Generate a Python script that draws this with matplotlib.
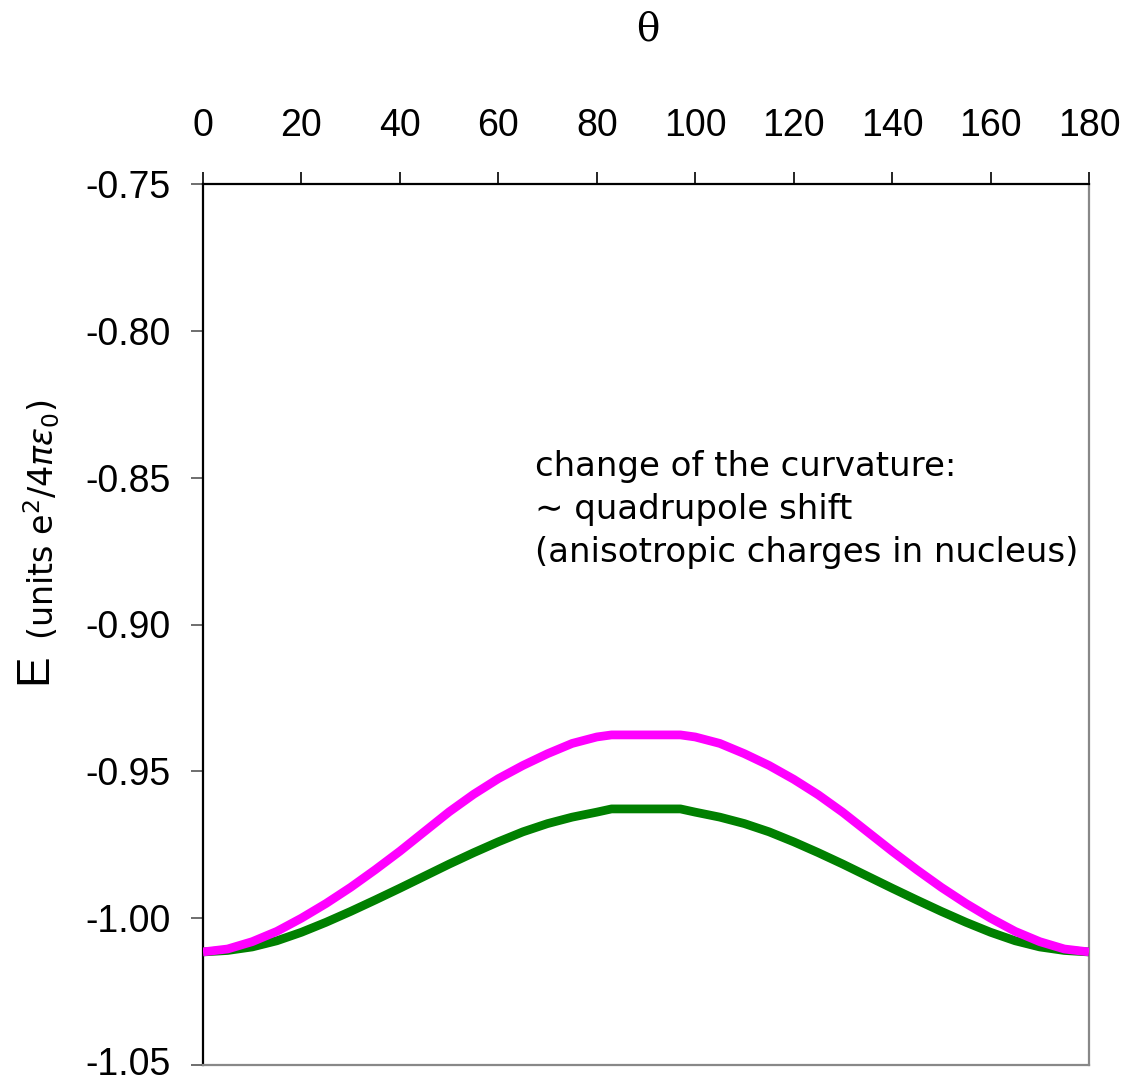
import matplotlib
matplotlib.use('Agg')
from matplotlib import pyplot as plt
from matplotlib.transforms import ScaledTranslation

# Angle (degrees) and energies
theta = [0, 5, 10, 15, 20, 25, 30, 35, 40, 45, 50, 55, 60, 65, 70, 75, 80, 83,
         97, 100, 105, 110, 115, 120, 125, 130, 135, 140, 145, 150, 155, 160, 165, 170, 175, 180]

energy_magenta = [-1.0115, -1.0105, -1.0080, -1.0045, -1.0000, -0.9950, -0.9895, -0.9835,
                  -0.9772, -0.9705, -0.9638, -0.9578, -0.9525, -0.9480, -0.9440, -0.9405,
                  -0.9383, -0.9376,
                  -0.9376, -0.9383, -0.9405, -0.9440, -0.9480, -0.9527, -0.9580, -0.9640,
                  -0.9706, -0.9772, -0.9835, -0.9895, -0.9950, -1.0000, -1.0045, -1.0080,
                  -1.0105, -1.0115]

energy_green = [-1.0115, -1.0110, -1.0098, -1.0077, -1.0048, -1.0014, -0.9977, -0.9938,
                -0.9898, -0.9857, -0.9816, -0.9777, -0.9740, -0.9706, -0.9678, -0.9656,
                -0.9639, -0.9628,
                -0.9628, -0.9639, -0.9656, -0.9678, -0.9706, -0.9740, -0.9777, -0.9816,
                -0.9857, -0.9898, -0.9938, -0.9977, -1.0014, -1.0048, -1.0077, -1.0098,
                -1.0110, -1.0115]

x_ticks = [0, 20, 40, 60, 80, 100, 120, 140, 160, 180]
y_ticks = [-1.05, -1.00, -0.95, -0.90, -0.85, -0.80, -0.75]

W, H = 1129, 1081
fig = plt.figure(figsize=(W / 100, H / 100), dpi=100, facecolor='white')
ax = fig.add_axes([203 / W, 1 - 1065 / H, (1089 - 203) / W, (1065 - 184) / H])

ax.plot(theta, energy_green, color='#008000', linewidth=6.3, solid_capstyle='butt',
        solid_joinstyle='round', zorder=3)
ax.plot(theta, energy_magenta, color='#FF00FF', linewidth=6.3, solid_capstyle='butt',
        solid_joinstyle='round', zorder=4)

ax.set_xlim(0, 180)
ax.set_ylim(-1.05, -0.75)

ax.xaxis.tick_top()
ax.set_xticks(x_ticks)
ax.set_yticks(y_ticks)
ax.set_yticklabels([f'{v:.2f}' for v in y_ticks])

for lbl in ax.get_xticklabels() + ax.get_yticklabels():
    lbl.set_fontfamily('Liberation Sans')
    lbl.set_fontsize(27)

ax.tick_params(axis='x', direction='out', length=9, width=1.2, pad=20, colors='black')
ax.tick_params(axis='y', direction='out', length=9, width=1.2, pad=14,
               colors='#555555', labelcolor='black')

# nudge the lowest y label up a little so it stays inside the figure
bottom_lbl = ax.get_yticklabels()[0]
bottom_lbl.set_transform(bottom_lbl.get_transform() +
                         ScaledTranslation(0, 4 / 100, fig.dpi_scale_trans))

ax.spines['top'].set_color('black')
ax.spines['left'].set_color('black')
ax.spines['right'].set_color('#888888')
ax.spines['bottom'].set_color('#888888')
for s in ax.spines.values():
    s.set_linewidth(1.6)

# axis titles
fig.text(648 / W, 1 - 30 / H, 'θ', fontsize=28, family='DejaVu Serif',
         ha='center', va='center')
fig.text(34 / W, 1 - 684 / H, 'E', fontsize=33, family='Liberation Sans',
         rotation=90, ha='center', va='bottom')
fig.text(42 / W, 1 - 640 / H, r'(units e$^2$/4$\pi\varepsilon_0$)', fontsize=24,
         family='DejaVu Sans', rotation=90, ha='center', va='bottom')

ax.text(67.4, -0.8405,
        'change of the curvature:\n∼ quadrupole shift\n(anisotropic charges in nucleus)',
        fontsize=24.5, family='DejaVu Sans', ha='left', va='top', linespacing=1.38)

fig.savefig('out.png', dpi=100, facecolor='white')
